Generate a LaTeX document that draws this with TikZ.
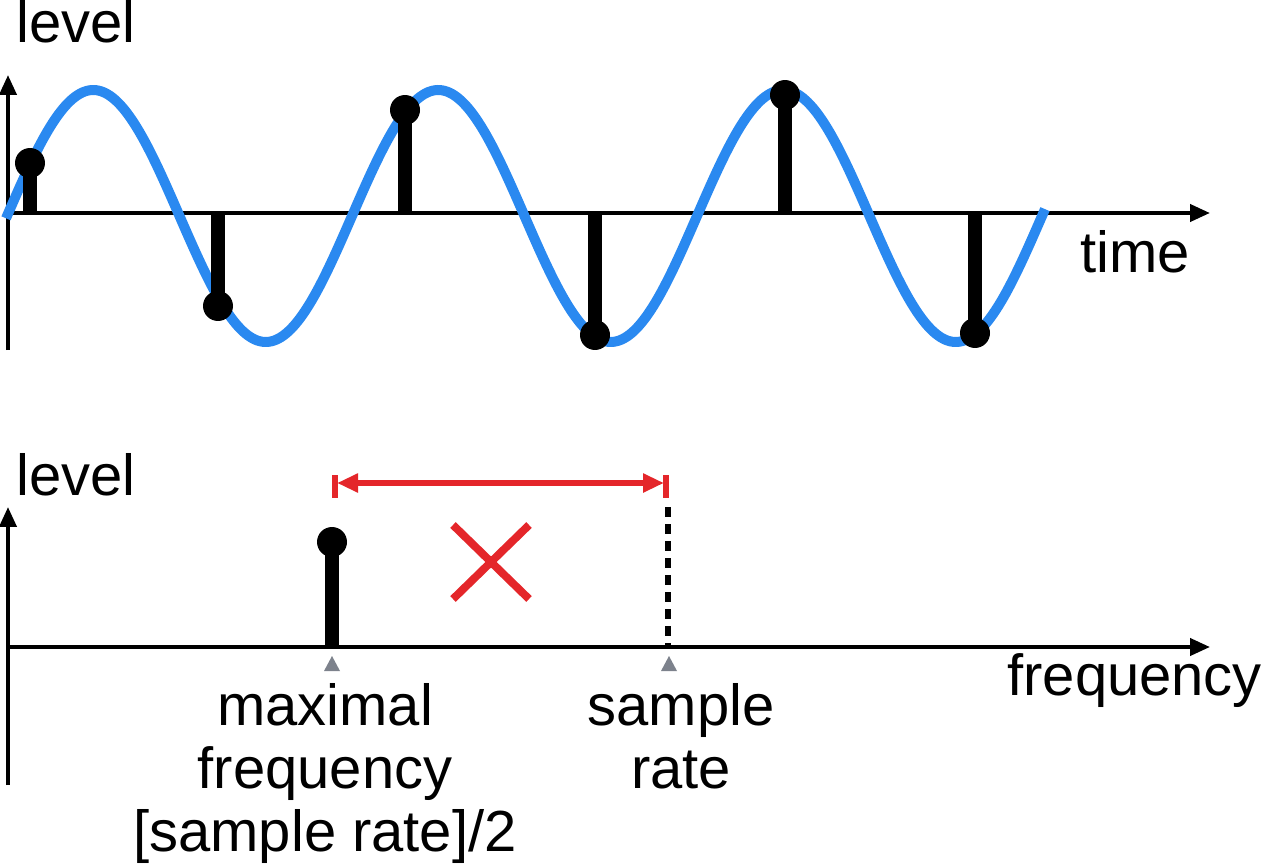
\documentclass[tikz,border=0pt]{standalone}
\usepackage{fontspec}
\setmainfont{Liberation Sans}
\usetikzlibrary{arrows.meta}
\definecolor{wavec}{RGB}{42,137,240}
\definecolor{redc}{RGB}{228,38,42}
\definecolor{greytri}{RGB}{125,130,140}
\begin{document}
\begin{tikzpicture}[x=0.02cm,y=-0.02cm,
  axis/.style={line width=2.3pt,-{Triangle[length=0.4cm,width=0.34cm]}},
  stem/.style={line width=8.5pt},
  dot/.style={circle,fill=black,minimum size=0.6cm,inner sep=0pt},
  lbl/.style={font=\fontsize{33}{40}\selectfont,inner sep=0pt},
  redarrow/.style={redc,line width=3pt,{Triangle[length=0.42cm,width=0.36cm]}-{Triangle[length=0.42cm,width=0.36cm]}},
  redbar/.style={redc,line width=3.8pt},
  marker/.style={fill=greytri}]
\useasboundingbox (0,0) rectangle (1264,868);

% ---------- top plot ----------
\coordinate (tO) at (8,213);
\coordinate (tYb) at (8,350);
\coordinate (tYt) at (8,75);
\coordinate (tXe) at (1210,213);
\draw[axis] (tYb) -- (tYt);
\draw[axis] (tO) -- (tXe);

\draw[wavec,line width=5.7pt] plot[domain=6:1045,samples=220,smooth] (\x,{216-126*sin((\x-7)*1.043478)});

\foreach \i/\sx/\sy in {1/30/163,2/218/306,3/405/110,4/595/335,5/785/95,6/975/333}{
  \coordinate (sb\i) at (\sx,213);
  \node[dot] (sd\i) at (\sx,\sy) {};
  \draw[stem] (sb\i) -- (sd\i.center);
}

\node[lbl,anchor=base west] (lvl1) at (16,43) {level};
\node[lbl,anchor=base west] (time) at (1080,273) {time};

% ---------- bottom plot ----------
\coordinate (bO) at (8,647);
\coordinate (bYb) at (8,785);
\coordinate (bYt) at (8,507);
\coordinate (bXe) at (1210,647);
\draw[axis] (bYb) -- (bYt);
\draw[axis] (bO) -- (bXe);

\coordinate (fb) at (332,647);
\node[dot] (fd) at (332,542) {};
\draw[stem] (fb) -- (fd.center);

\coordinate (srb) at (668,647);
\coordinate (srt) at (668,507);
\draw[line width=2.9pt,dash pattern=on 5.7pt off 4pt] (srt) -- (srb);

\coordinate (bl1) at (335,475);
\coordinate (bl2) at (335,498);
\coordinate (br1) at (666,475);
\coordinate (br2) at (666,498);
\draw[redbar] (bl1) -- (bl2);
\draw[redbar] (br1) -- (br2);
\coordinate (al) at (337,483);
\coordinate (ar) at (664,483);
\draw[redarrow] (al) -- (ar);

\coordinate (x1) at (453,525);
\coordinate (x2) at (529,599);
\coordinate (x3) at (529,525);
\coordinate (x4) at (453,599);
\draw[redc,line width=4.5pt] (x1) -- (x2);
\draw[redc,line width=4.5pt] (x3) -- (x4);

\fill[marker] (332,656) -- (340,671) -- (324,671) -- cycle;
\fill[marker] (669,656) -- (677,671) -- (661,671) -- cycle;

\node[lbl,anchor=base west] (lvl2) at (16,495) {level};
\node[lbl,anchor=base west] (freq) at (1007,695) {frequency};

\node[lbl,anchor=base] (m1) at (325,725) {maximal};
\node[lbl,anchor=base] (m2) at (325,788) {frequency};
\node[lbl,anchor=base] (m3) at (325,851) {[sample rate]/2};

\node[lbl,anchor=base] (s1) at (681,725) {sample};
\node[lbl,anchor=base] (s2) at (681,788) {rate};
\end{tikzpicture}
\end{document}
